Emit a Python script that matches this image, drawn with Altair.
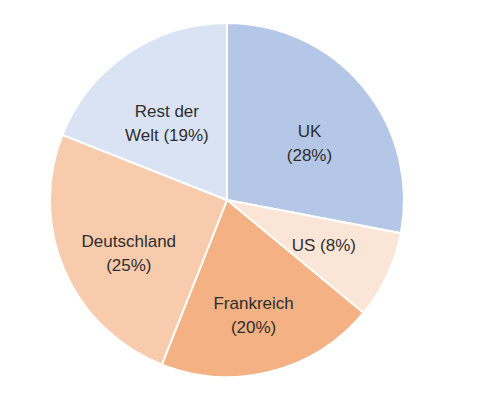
import altair as alt
import pandas as pd

countries = ["UK", "US", "Frankreich", "Deutschland", "Rest der Welt"]
shares = [28, 8, 20, 25, 19]
labels = ["UK\n(28%)", "US (8%)", "Frankreich\n(20%)", "Deutschland\n(25%)", "Rest der\nWelt (19%)"]
colors = ["#b4c7e7", "#fbe5d6", "#f4b183", "#f8cbad", "#dae3f3"]

df = pd.DataFrame({"country": countries, "share": shares, "label": labels,
                   "idx": list(range(len(countries)))})

base = alt.Chart(df).encode(
    theta=alt.Theta("share:Q", stack=True),
    order=alt.Order("idx:Q"),
)

arcs = base.mark_arc(outerRadius=177, stroke="white", strokeWidth=2).encode(
    color=alt.Color("country:N", scale=alt.Scale(domain=countries, range=colors), legend=None)
)

text = base.mark_text(radius=107, fontSize=17, font="Arial", color="#2e2e2e",
                      lineBreak="\n", lineHeight=24, align="center", baseline="middle").encode(
    text="label:N"
)

chart = (arcs + text).properties(width=438, height=384, padding=0).configure_view(stroke=None)

chart.save("out.html", embed_options={"renderer": "svg", "actions": False})
